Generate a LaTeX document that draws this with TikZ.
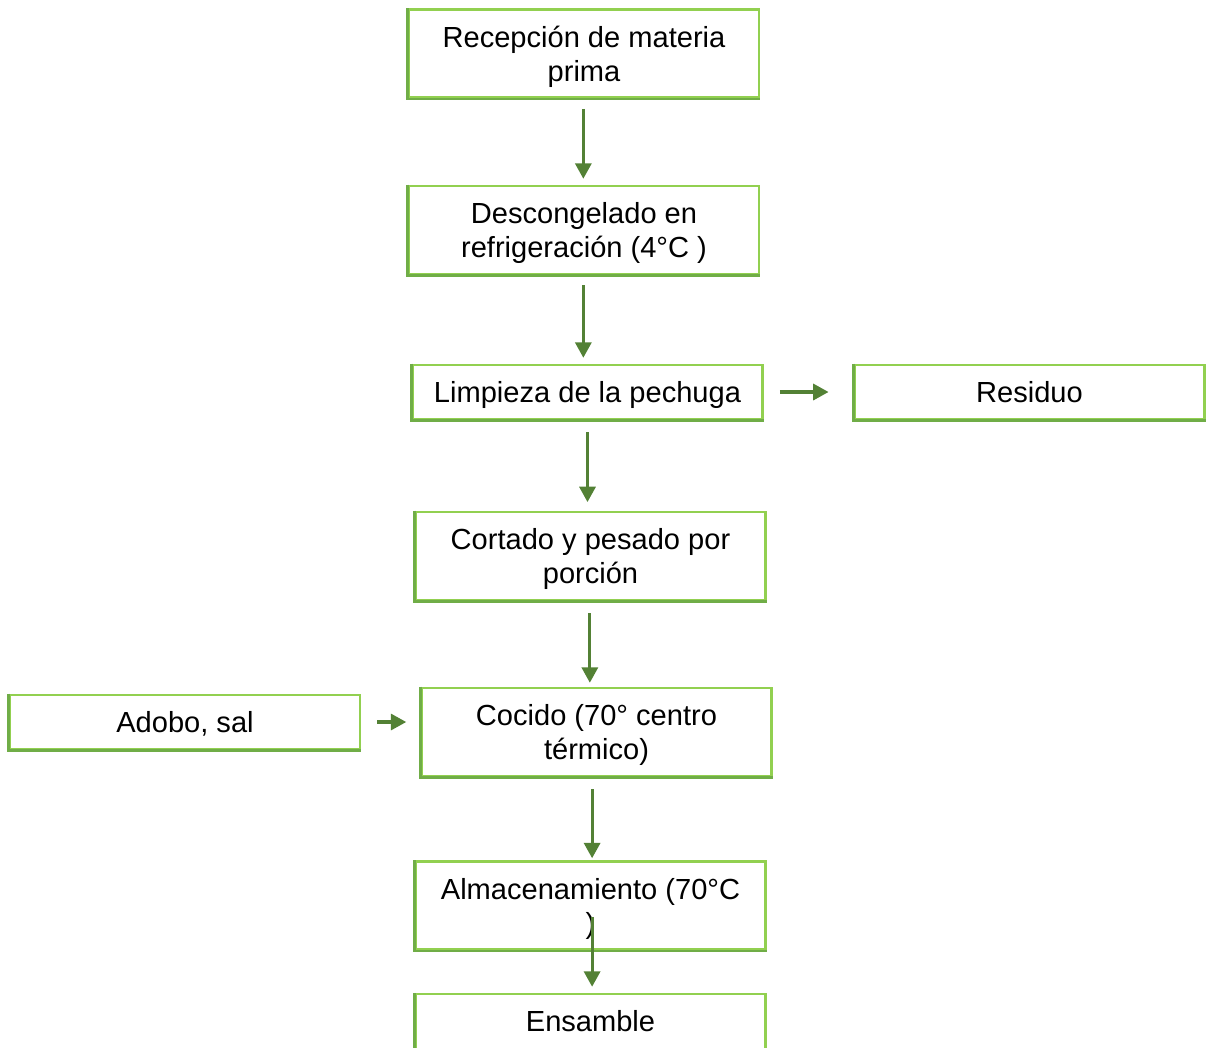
\documentclass[tikz,border=0pt]{standalone}
\usepackage{fontspec}
\setmainfont{Liberation Sans}
\usetikzlibrary{arrows.meta}
\definecolor{edgelight}{HTML}{92D050}
\definecolor{edgedark}{HTML}{70AD47}
\definecolor{flow}{HTML}{538135}
\begin{document}
\begin{tikzpicture}[x=0.75pt,y=-0.75pt,
  stepbox/.style={draw=edgelight,line width=1.9pt,fill=white,
    inner sep=0pt,minimum width=262.5pt},
  tall/.style={minimum height=66pt},
  short/.style={minimum height=40.5pt},
  steptext/.style={align=center,inner sep=0pt,
    font=\fontsize{21.8pt}{25.5pt}\selectfont},
  oneline/.style={steptext,text height=15.6pt,text depth=0pt},
  twoline/.style={steptext,yshift=-2.25pt},
  flowarrow/.style={draw=flow,line width=2.3pt,
    -{Triangle[length=11.5pt,width=12pt]}}]
\useasboundingbox (0,0) rectangle (1209,1047);
\clip (0,0) rectangle (1209,1047);

% process boxes
\node[stepbox,tall]  (rec) at (584,53.5)    {};
\node[stepbox,tall]  (des) at (584,230)     {};
\node[stepbox,short] (lim) at (587.5,392)   {};
\node[stepbox,short] (res) at (1029.5,392)  {};
\node[stepbox,tall]  (cor) at (590.5,556)   {};
\node[stepbox,short] (ado) at (185,722)     {};
\node[stepbox,tall]  (coc) at (596.5,732)   {};
\node[stepbox,tall]  (alm) at (590.5,905.5) {};
% last box runs past the lower edge of the page
\node[stepbox,minimum height=48pt] (ens) at (590.5,1026) {};

% darker shade on the left and bottom sides of each box
\foreach \n in {rec,des,lim,res,cor,ado,coc,alm,ens}
  \draw[edgedark,line width=1.9pt] (\n.north west) |- (\n.south east);

% box texts
\node[twoline] (recT) at (rec) {Recepción de materia\\prima};
\node[twoline] (desT) at (des) {Descongelado en\\refrigeración (4°C )};
\node[oneline] (limT) at (lim) {Limpieza de la pechuga};
\node[oneline] (resT) at (res) {Residuo};
\node[twoline] (corT) at (cor) {Cortado y pesado por\\porción};
\node[oneline] (adoT) at (ado) {Adobo, sal};
\node[twoline] (cocT) at (coc) {Cocido (70° centro\\térmico)};
\node[twoline] (almT) at (alm) {Almacenamiento (70°C\\)};
\node[oneline] (ensT) at ([yshift=3.75pt]ens.center) {Ensamble};

% main flow
\draw[flowarrow,shorten <=7.5pt,shorten >=4.5pt] ([xshift=-0.5pt]rec.south) -- ([xshift=-0.5pt]rec.south |- des.north);
\draw[flowarrow,shorten <=7.5pt,shorten >=4.5pt] ([xshift=-0.5pt]des.south) -- ([xshift=-0.5pt]des.south |- lim.north);
\draw[flowarrow,shorten <=9pt,shorten >=6.5pt] (lim.south) -- (lim.south |- cor.north);
\draw[flowarrow,shorten <=9pt,shorten >=3pt] ([xshift=-0.5pt]cor.south) -- ([xshift=-0.5pt]cor.south |- coc.north);
\draw[flowarrow,shorten <=9pt,shorten >=1.5pt] ([xshift=1.2pt]alm.north |- coc.south) -- ([xshift=1.2pt]alm.north);
\draw[flowarrow,shorten <=-25.5pt,shorten >=4.5pt] ([xshift=1.2pt]alm.south) -- ([xshift=1.2pt]ens.north);

% side flows
\draw[flowarrow,shorten <=12pt,shorten >=18.5pt] (lim.east) -- (res.west);
\draw[flowarrow,shorten <=12pt,shorten >=10.5pt] (ado.east) -- (ado.east -| coc.west);
\end{tikzpicture}
\end{document}
